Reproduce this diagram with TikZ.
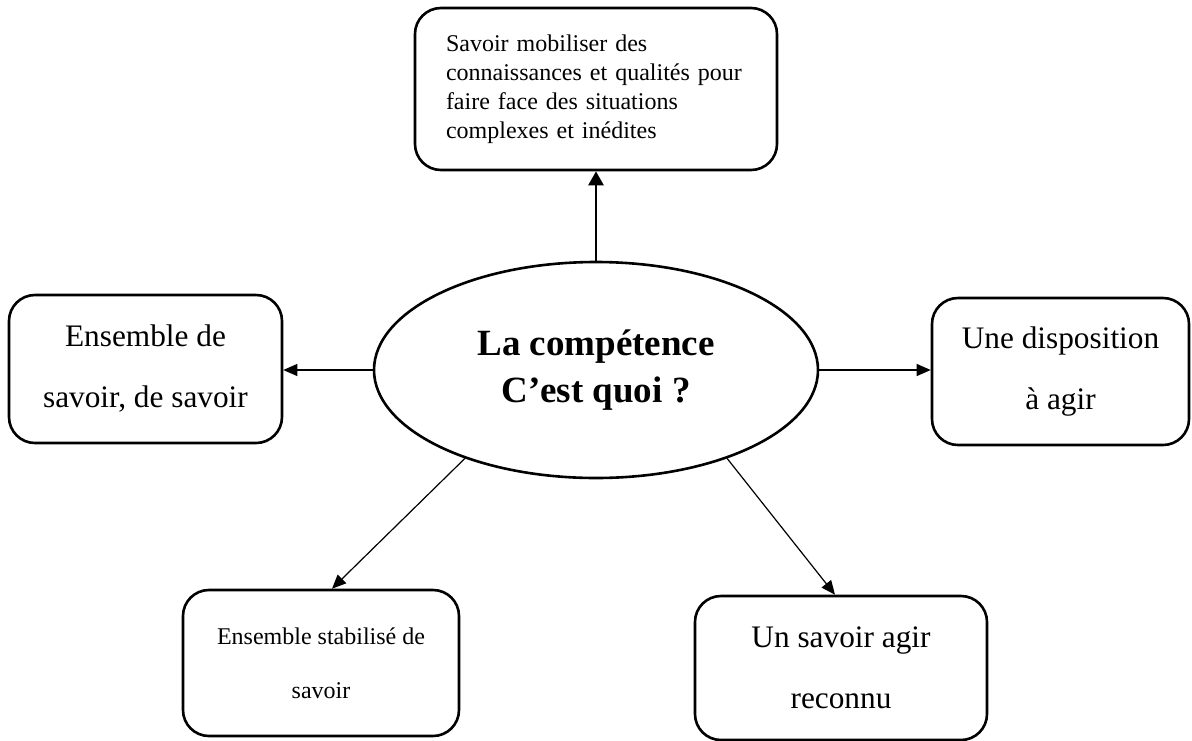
\documentclass[tikz,border=0pt]{standalone}
\usepackage{fontspec}
\setmainfont{Liberation Serif}
\usetikzlibrary{shapes.geometric,arrows.meta}
\begin{document}
\begin{tikzpicture}[x=1pt,y=-1pt,
  box/.style={draw,line width=2.6pt,rounded corners=26pt,inner sep=0pt,align=center},
  bigtext/.style={font=\fontsize{31.3}{61}\selectfont},
  smalltext/.style={font=\fontsize{24}{29}\selectfont},
  link/.style={line width=1.2pt,-{Triangle[length=14pt,width=12pt]}},
  mainlink/.style={line width=2.6pt,-{Triangle[length=14pt,width=15pt]}},
]
\useasboundingbox (0,0) rectangle (1192,740);

% central question
\node[draw,line width=2.6pt,ellipse,minimum width=444pt,minimum height=216pt,
      inner sep=0pt,align=center,font=\bfseries\fontsize{37}{47}\selectfont]
      (ell) at (596,370) {La compétence\\C’est quoi ?};

% definitions around it
\node[box,smalltext,align=left,text width=300pt,minimum width=362pt,minimum height=162pt]
      (top) at (596,89)
      {Savoir mobiliser des\\connaissances et qualités pour\\faire face des situations\\complexes et inédites};
\node[box,bigtext,minimum width=273pt,minimum height=148pt]
      (lft) at (145.5,369) {Ensemble de\\savoir, de savoir};
\node[box,bigtext,minimum width=257pt,minimum height=147pt]
      (rgt) at (1060.5,371.5) {Une disposition\\à agir};
\node[box,font=\fontsize{24}{54}\selectfont,minimum width=276pt,minimum height=146pt]
      (bl) at (321,663) {Ensemble stabilisé de\\savoir};
\node[box,bigtext,minimum width=292pt,minimum height=144pt]
      (br) at (841,668) {Un savoir agir\\reconnu};

% connectors
\draw[mainlink] (ell.north) -- (ell.north |- top.south);
\draw[link] (ell.west) -- (ell.west -| lft.east);
\draw[link] (ell.east) -- (ell.east -| rgt.west);
\draw[link] (ell.214) -- ([xshift=11pt]bl.north);
\draw[link] (ell.326) -- ([xshift=-6pt]br.north);
\end{tikzpicture}
\end{document}
